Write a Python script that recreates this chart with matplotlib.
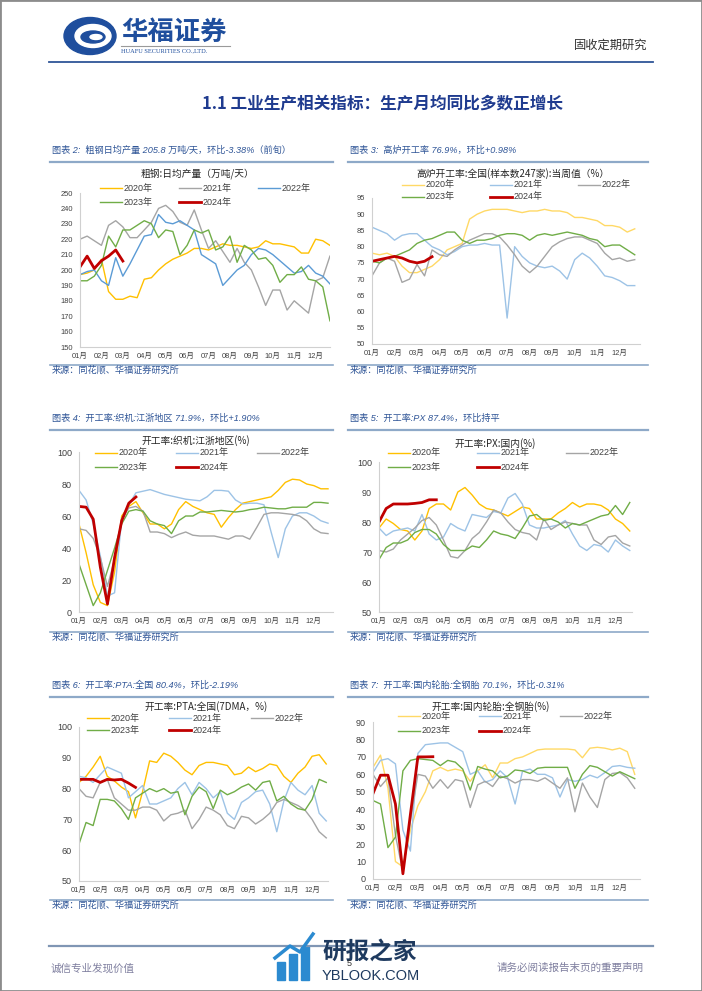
import numpy as np
import matplotlib
matplotlib.use("Agg")
import matplotlib.pyplot as plt
from matplotlib.lines import Line2D
from matplotlib.patches import Ellipse, Rectangle

plt.rcParams['font.family'] = ['Liberation Sans', 'Noto Sans CJK SC', 'DejaVu Sans']

W, H = 702, 991

years = ['2020年', '2021年', '2022年', '2023年', '2024年']
months = ['01月', '02月', '03月', '04月', '05月', '06月',
          '07月', '08月', '09月', '10月', '11月', '12月']

# 粗钢日均产量 (旬)
steel_2020 = [197, 198, 200, 207, 186, 181, 181, 183, 182, 194, 195, 200, 204, 207, 209, 211, 214, 214,
              213, 215, 217, 216, 216, 215, 214, 215, 219, 217, 217, 216, 215, 211, 211, 220, 219, 216]
steel_2021 = [220, 222, 219, 216, 229, 232, 228, 221, 221, 226, 231, 240, 242, 238, 231, 229, 239, 226,
              214, 219, 212, 205, 214, 205, 200, 189, 177, 187, 187, 174, 180, 176, 172, 193, 195, 209]
steel_2022 = [197, 199, 200, 193, 190, 208, 196, 204, 213, 222, 223, 236, 231, 230, 232, 229, 226, 210,
              207, 204, 190, 195, 200, 203, 210, 214, 213, 210, 206, 202, 198, 199, 203, 198, 196, 191]
steel_2023 = [193, 193, 196, 203, 222, 215, 226, 226, 229, 232, 230, 221, 226, 225, 210, 216, 226, 224,
              226, 213, 215, 222, 205, 216, 213, 207, 208, 203, 192, 197, 197, 202, 194, 193, 189, 167]
steel_2024 = [202, 209, 201, 206, 209, 213, 205.8]

# 高炉开工率
bf_2020 = [78, 77.5, 78, 77, 74, 72, 72, 73, 74, 76, 79, 80, 81, 88.5, 90, 91, 91.5, 91.5,
           91.5, 91, 90.5, 91, 91, 91.5, 91, 91, 90.5, 89, 89, 88.5, 88, 86.5, 86.5, 86, 84.5, 85.5]
bf_2021 = [86, 85, 84, 82, 83.5, 84, 84, 82, 80, 79, 77.5, 78.5, 80, 80.5, 80.5, 81, 80.5, 80.5,
           58, 80, 77, 75, 74, 73.5, 74, 72.5, 70, 76, 78, 76.5, 74, 71, 70.5, 69.5, 68, 68]
bf_2022 = [71, 75, 76.5, 75.5, 69, 70, 74.5, 71, 79, 77.5, 77, 79, 80.5, 82, 83, 84, 84, 83,
           80.5, 77.5, 74, 72, 74, 77, 80, 81.5, 82.5, 83, 83, 82, 81, 78, 76, 76.5, 75.5, 76]
bf_2023 = [75.5, 75, 76.5, 77, 78, 79, 81, 82, 82.5, 83.5, 84.5, 84.5, 82, 81, 82, 82, 82.5, 83.5,
           84, 84, 83.5, 82, 83.5, 84, 83.5, 84, 84.5, 84, 83.5, 82.5, 82, 80, 80.5, 80.5, 79, 77.5]
bf_2024 = [75.5, 76, 76.5, 77, 76.5, 75.5, 75, 75.5, 76.9]

# 开工率:织机:江浙地区
loom_2020 = [55, 37, 17, 6, 4, 25, 60, 66, 69, 62, 55, 55, 52, 55, 64, 69, 66, 64,
             62, 61, 53, 59, 64, 68, 69, 70, 71, 72, 76, 81, 83, 82.5, 80, 79, 77, 77]
loom_2021 = [76, 70, 55, 35, 10, 12, 58, 67, 74.5, 75.5, 76.5, 75, 73.5, 72.5, 71.5, 70.5, 70, 69.5,
             72, 76, 76, 75.5, 70, 67.5, 68, 68, 67, 50, 34, 52, 60, 62, 62, 60, 57, 55.5]
loom_2022 = [52, 51, 46, 34, 16, 33, 58, 65, 66, 63, 50, 50, 49, 46.5, 48.5, 50, 48, 47.5,
             47.5, 47.5, 46.5, 45.5, 47.5, 47.5, 45.5, 53, 61, 62, 62, 61.5, 61, 60, 57, 52, 49.5, 49]
loom_2023 = [30, 17, 4, 12, 26, 40, 55, 63, 64, 63, 57, 55, 54, 49, 57, 60, 60, 62.5,
             62.5, 63, 63.5, 63, 62.5, 63, 64, 64.5, 65.5, 65, 64.5, 64.5, 65.5, 65.5, 65.5, 68.5, 68.5, 68]
loom_2024 = [66, 65.5, 58, 28, 5, 34, 57, 68, 71.9]

# 开工率:PX:国内
px_2020 = [78, 81, 79.5, 77.5, 77, 74, 77, 84.5, 86, 86, 84, 90, 91.5, 89, 86, 84.5, 84, 83,
           82, 83.5, 85, 84.5, 81, 81, 81, 83, 84.5, 86.5, 85, 86, 86, 85.5, 84, 81, 79.5, 77]
px_2021 = [78, 75.5, 77, 77.5, 78, 77, 82.5, 76, 74, 75, 79.5, 78, 77, 82.5, 82, 81.5, 83.5, 83,
           88, 89.5, 86, 79, 78, 78, 78.5, 79, 80.5, 76, 72, 70.5, 72.5, 72, 70, 74, 72, 70.5]
px_2022 = [70.5, 70, 71, 74, 76, 78, 80.5, 81.5, 79, 74, 68.5, 68, 70.5, 74.5, 76.5, 80, 84, 83,
           80, 77.5, 76.5, 76, 74, 81, 77.5, 79, 80, 79.5, 79, 79, 74, 72.5, 75, 75.5, 73, 72]
px_2023 = [67.5, 71.5, 73, 73, 74, 76.5, 77.5, 77.5, 76, 72.5, 70.5, 70.5, 70.5, 72, 71.5, 74, 77, 76,
           75.5, 74.5, 78, 82, 82.5, 80.5, 81, 80, 78, 79.5, 79, 80, 81, 82, 82.5, 85.5, 82.5, 86.5]
px_2024 = [80, 84.5, 86, 86, 86, 86.2, 86.5, 87.4, 87.4]

# 开工率:PTA:全国
pta_2020 = [82, 84, 87, 90.5, 84, 82.5, 80.5, 79, 70.5, 79, 89, 88.5, 91.5, 90.5, 88.5, 86, 84.5, 87.5,
            88.5, 88.5, 88, 87.5, 84.5, 85, 87, 85.5, 86.5, 88, 87.5, 84, 82, 85, 87, 90.5, 91, 88]
pta_2021 = [84, 83.5, 82, 84.5, 87, 86, 85, 77, 79, 81, 75, 75, 76, 77, 80, 82, 78, 82,
            80, 77, 79, 72, 70, 75.5, 77, 79, 79.5, 75, 66, 76, 82, 79.5, 78, 81, 72, 69.5]
pta_2022 = [80, 77.5, 77, 82, 83, 77, 75, 73, 73, 74, 74, 73, 69.5, 71.5, 72, 73, 67, 70,
            74, 73, 71.5, 68, 67, 71, 70.5, 68.5, 70, 72, 75.5, 76.5, 75.5, 74.5, 73, 70, 66, 64]
pta_2023 = [62, 69, 68, 76.5, 76.5, 76, 73.5, 70, 77, 78.5, 80, 79, 80, 78.5, 79, 71.5, 77.5, 80.5,
            79, 73.5, 79.5, 78, 79, 80.5, 81.5, 79.5, 82, 82.5, 76, 77.5, 75, 73.5, 73, 76.5, 83, 82]
pta_2024 = [83, 83, 83, 82, 83, 82.8, 83, 81.8, 80.4]

# 开工率:国内轮胎:全钢胎
tire_2020 = [64, 71, 52, 10, 7, 28, 42, 50, 62, 64, 62, 63, 62, 56, 62, 65.5, 58, 66.5,
             66.5, 69, 70, 72, 74, 74.5, 74.5, 74.5, 74.5, 74, 69.5, 75, 75.5, 75, 74, 75, 73, 60]
tire_2021 = [61, 68, 69, 66, 28, 16, 72, 77, 77.5, 78, 78, 75.5, 73, 60, 62, 55.5, 57, 62,
             58, 43, 62, 63, 60, 60, 58, 47, 57, 56, 57, 59.5, 58, 61, 64.5, 65, 64, 63.5]
tire_2022 = [60, 53, 58, 25, 4, 33, 60, 59, 52, 57, 52, 57, 56, 41, 54, 56, 53, 59,
             57.5, 55, 57, 57, 56, 58, 55, 52, 58, 38.5, 55, 47, 41, 57, 60.5, 61, 58, 52]
tire_2023 = [45, 43, 18, 24, 62, 68, 69, 68.5, 68, 65, 68, 67, 63, 51, 64.5, 63, 62, 58,
             59, 62.5, 62, 60.5, 63.5, 64, 64, 64, 64, 52, 60, 65, 64, 61.5, 59, 61.5, 59.5, 57.5]
tire_2024 = [49, 59.5, 59.5, 43, 3, 37, 70, 70, 70.1]

BLUE = '#2F5597'
LINE_BLUE = '#8EA9C8'
CJK = ['Noto Sans CJK SC', 'DejaVu Sans']

fig = plt.figure(figsize=(W / 100, H / 100), dpi=100)


def fx(px):
    return px / W


def fy(py):
    return 1 - py / H


def hline(x0, x1, y, color, lw):
    fig.add_artist(Line2D([fx(x0), fx(x1)], [fy(y), fy(y)], transform=fig.transFigure,
                          color=color, lw=lw))


def panel(box, xmax, ylim, yticks, series, colors, ylab_size, title, title_x, title_y,
          leg_x, leg_rows, leg_gap, header, head_x, head_y, src_y):
    left, top, right, bottom = box
    ax = fig.add_axes([fx(left), fy(bottom), (right - left) / W, (bottom - top) / H])
    ax.patch.set_alpha(0)
    widths = [1.0, 1.0, 1.0, 1.0, 2.0]
    for vals, c, lw in zip(series, colors, widths):
        ax.plot(np.arange(len(vals)) / 3, vals, color=c, lw=lw)
    ax.set_xlim(0, xmax)
    ax.set_ylim(*ylim)
    ax.set_yticks(yticks)
    ax.set_xticks(range(12))
    ax.set_xticklabels(months)
    for s in ['top', 'right']:
        ax.spines[s].set_visible(False)
    for s in ['left', 'bottom']:
        ax.spines[s].set_color('#D0D0D0')
        ax.spines[s].set_linewidth(0.8)
    ax.tick_params(axis='x', length=0, labelsize=5.4, colors='#404040', pad=4)
    ax.tick_params(axis='y', length=0, labelsize=ylab_size, colors='#404040', pad=5)

    # chart title
    fig.text(fx(title_x), fy(title_y), title, ha='center', va='center', fontsize=7,
             color='#262626', family=CJK)
    # legend, row by row
    for i, (lab, c, lw) in enumerate(zip(years, colors, widths)):
        xs = leg_x + (i % 3) * leg_gap
        ys = leg_rows[i // 3]
        fig.add_artist(Line2D([fx(xs), fx(xs + 22)], [fy(ys), fy(ys)], transform=fig.transFigure,
                              color=c, lw=lw))
        fig.text(fx(xs + 24), fy(ys), lab, ha='left', va='center', fontsize=6.5, color='#404040')
    # header, rules and source
    span = 283 if head_x < 300 else 300
    fig.text(fx(head_x), fy(head_y), header, ha='left', va='center', fontsize=6.6,
             color=BLUE, style='italic')
    hline(head_x - 2, head_x - 2 + span, head_y + 12, LINE_BLUE, 1.6)
    hline(head_x - 2, head_x - 2 + span, src_y - 5, LINE_BLUE, 1.2)
    fig.text(fx(head_x), fy(src_y), '来源：同花顺、华福证券研究所', ha='left', va='center',
             fontsize=6.6, color=BLUE, style='italic', family=CJK)
    return ax


c1 = ['#FFC000', '#A5A5A5', '#5B9BD5', '#70AD47', '#C00000']
c_pale = ['#FFD966', '#9DC3E6', '#A5A5A5', '#70AD47', '#C00000']
c_std = ['#FFC000', '#9DC3E6', '#A5A5A5', '#70AD47', '#C00000']

panel((80, 193, 330, 347), 11.67, (150, 250), range(150, 251, 10),
      [steel_2020, steel_2021, steel_2022, steel_2023, steel_2024], c1, 5.4,
      '粗钢:日均产量（万吨/天）', 197, 174, 100, (188, 202), 79,
      '图表 2:  粗钢日均产量 205.8 万吨/天，环比-3.38%（前旬）', 52, 150, 370)

panel((372, 198, 640, 344), 11.9, (50, 95), range(50, 96, 5),
      [bf_2020, bf_2021, bf_2022, bf_2023, bf_2024], c_pale, 5.4,
      '高炉开工率:全国(样本数247家):当周值（%）', 513, 174, 402, (185, 197), 88,
      '图表 3:  高炉开工率 76.9%，环比+0.98%', 350, 150, 370)

panel((79, 452, 333, 612), 11.9, (0, 100), range(0, 101, 20),
      [loom_2020, loom_2021, loom_2022, loom_2023, loom_2024], c_std, 6.5,
      '开工率:织机:江浙地区(%)', 196, 441, 95, (453, 467), 81,
      '图表 4:  开工率:织机:江浙地区 71.9%，环比+1.90%', 52, 418, 637)

panel((379, 462, 632, 612), 11.77, (50, 100), range(50, 101, 10),
      [px_2020, px_2021, px_2022, px_2023, px_2024], c_std, 6.5,
      '开工率:PX:国内(%)', 495, 444, 388, (453, 467), 89,
      '图表 5:  开工率:PX 87.4%，环比持平', 350, 418, 637)

panel((79, 727, 328, 881), 11.75, (50, 100), range(50, 101, 10),
      [pta_2020, pta_2021, pta_2022, pta_2023, pta_2024], c_std, 6.5,
      '开工率:PTA:全国(7DMA，%)', 206, 707, 87, (718, 730), 82,
      '图表 6:  开工率:PTA:全国 80.4%，环比-2.19%', 52, 685, 905)

panel((373, 722, 640, 879), 11.9, (0, 90), range(0, 91, 10),
      [tire_2020, tire_2021, tire_2022, tire_2023, tire_2024], c_pale, 6.5,
      '开工率:国内轮胎:全钢胎(%)', 491, 707, 398, (716, 731), 81,
      '图表 7:  开工率:国内轮胎:全钢胎 70.1%，环比-0.31%', 350, 685, 905)

# page header
fig.add_artist(Ellipse((fx(90), fy(36)), 52 / W, 37 / H, transform=fig.transFigure, color='#1F4E9D'))
fig.add_artist(Ellipse((fx(93), fy(36)), 36 / W, 23 / H, transform=fig.transFigure, color='white'))
fig.add_artist(Ellipse((fx(93), fy(37)), 24 / W, 12 / H, transform=fig.transFigure, color='#1F4E9D'))
fig.add_artist(Ellipse((fx(96), fy(37)), 12 / W, 5 / H, transform=fig.transFigure, color='white'))
fig.text(fx(121), fy(32), '华福证券', ha='left', va='center', fontsize=19, fontweight='bold',
         color='#1F4E9D', family=['Noto Sans CJK SC'])
hline(121, 230, 46, '#9A9A9A', 0.8)
fig.text(fx(121), fy(51), 'HUAFU SECURITIES CO.,LTD.', ha='left', va='center', fontsize=4.6,
         color='#1F4E9D', family=['Liberation Serif'])
fig.text(fx(647), fy(45), '固收定期研究', ha='right', va='center', fontsize=8.8, color='#333333',
         family=['Noto Sans CJK SC'])
hline(49, 653, 62, '#2F5597', 1.3)
fig.text(fx(383), fy(103), '1.1 工业生产相关指标：生产月均同比多数正增长', ha='center', va='center',
         fontsize=12, fontweight='bold', color='#1F3B8F', family=CJK)

# page footer
hline(49, 653, 946, '#8096B4', 1.6)
fig.text(fx(51), fy(968), '诚信专业发现价值', ha='left', va='center', fontsize=7.6, color='#7F7F9F',
         family=['Noto Sans CJK SC'])
fig.text(fx(644), fy(968), '请务必阅读报告末页的重要声明', ha='right', va='center', fontsize=7.6,
         color='#7F7F9F', family=['Noto Sans CJK SC'])
for i, hgt in enumerate([18, 26, 34]):
    fig.add_artist(Rectangle((fx(277 + i * 12), fy(980)), 8 / W, hgt / H, transform=fig.transFigure,
                             color='#2B8AD0'))
fig.add_artist(Line2D([fx(275), fx(290), fx(300), fx(313)], [fy(958), fy(946), fy(952), fy(934)],
                      transform=fig.transFigure, color='#2B8AD0', lw=2.5))
fig.text(fx(322), fy(952), '研报之家', ha='left', va='center', fontsize=17, fontweight='bold',
         color='#1E3A5F', family=['Noto Sans CJK SC'])
fig.text(fx(322), fy(976), 'YBLOOK.COM', ha='left', va='center', fontsize=10.5, color='#1E3A5F')
fig.text(fx(349), fy(964), '5', ha='center', va='center', fontsize=6.5, color='#333333', zorder=5)

# page frame
fig.add_artist(Rectangle((0, 0), 1, 1, transform=fig.transFigure, fill=False,
                         edgecolor='#8C8C8C', lw=2))

fig.savefig('out.png', dpi=100)
